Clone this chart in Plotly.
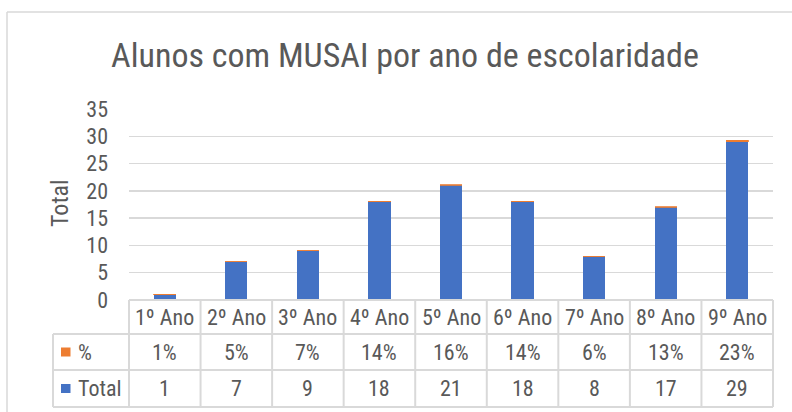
import plotly.graph_objects as go

categories = ["1º Ano", "2º Ano", "3º Ano", "4º Ano", "5º Ano", "6º Ano", "7º Ano", "8º Ano", "9º Ano"]
total = [1, 7, 9, 18, 21, 18, 8, 17, 29]
pct = [0.01, 0.05, 0.07, 0.14, 0.16, 0.14, 0.06, 0.13, 0.23]
pct_labels = ["1%", "5%", "7%", "14%", "16%", "14%", "6%", "13%", "23%"]
y_ticks = [0, 5, 10, 15, 20, 25, 30, 35]

W, H = 792, 412
FONT = "Liberation Sans Narrow, Arial Narrow, Roboto Condensed, sans-serif"
GRAY = "#595959"
LINE = "#d9d9d9"
BLUE = "#4472C4"
ORANGE = "#ED7D31"

px_l, px_r = 129, 773
py_top, py_bot = 109, 300
row_y = [300, 334, 370, 407]
leg_l = 53


def py(y):
    return 1 - y / H


def pxx(x):
    return x / W


fig = go.Figure()
fig.add_bar(x=categories, y=total, name="Total", marker=dict(color=BLUE, line=dict(width=0)), width=0.31)
fig.add_bar(x=categories, y=pct, name="%", marker=dict(color=ORANGE, line=dict(width=0.8, color=ORANGE)), width=0.31)

shapes = []
annotations = []

# outer frame
shapes.append(dict(type="line", xref="paper", yref="paper", x0=pxx(7), x1=1.0, y0=py(12), y1=py(12),
                   line=dict(color=LINE, width=1.5)))
shapes.append(dict(type="line", xref="paper", yref="paper", x0=pxx(7), x1=pxx(7), y0=py(12), y1=0,
                   line=dict(color=LINE, width=1.5)))

# table horizontal lines
shapes.append(dict(type="line", xref="paper", yref="paper", x0=pxx(px_l), x1=pxx(px_r), y0=py(row_y[0]), y1=py(row_y[0]),
                   line=dict(color=LINE, width=2)))
for yy in row_y[1:]:
    shapes.append(dict(type="line", xref="paper", yref="paper", x0=pxx(leg_l), x1=pxx(px_r), y0=py(yy), y1=py(yy),
                       line=dict(color=LINE, width=2)))
# vertical lines
colw = (px_r - px_l) / len(categories)
for i in range(len(categories) + 1):
    xx = px_l + i * colw
    shapes.append(dict(type="line", xref="paper", yref="paper", x0=pxx(xx), x1=pxx(xx), y0=py(row_y[0]), y1=py(row_y[3]),
                       line=dict(color=LINE, width=2)))
shapes.append(dict(type="line", xref="paper", yref="paper", x0=pxx(leg_l), x1=pxx(leg_l), y0=py(row_y[1]), y1=py(row_y[3]),
                   line=dict(color=LINE, width=2)))

# legend keys
for (c, ymid, lab) in [(ORANGE, (row_y[1] + row_y[2]) / 2, "%"), (BLUE, (row_y[2] + row_y[3]) / 2, "Total")]:
    shapes.append(dict(type="rect", xref="paper", yref="paper", x0=pxx(61), x1=pxx(70.5), y0=py(ymid - 4.5), y1=py(ymid + 4.5),
                       fillcolor=c, line=dict(width=0)))
    annotations.append(dict(text=lab, xref="paper", yref="paper", x=pxx(76), y=py(ymid), xanchor="left", yanchor="middle",
                            showarrow=False, font=dict(family=FONT, size=22, color=GRAY)))

# table text
for i, cat in enumerate(categories):
    for txt, ymid in [(cat, (row_y[0] + row_y[1]) / 2), (pct_labels[i], (row_y[1] + row_y[2]) / 2),
                      (str(total[i]), (row_y[2] + row_y[3]) / 2)]:
        annotations.append(dict(text=txt, xref="x", yref="paper", x=cat, y=py(ymid), xanchor="center", yanchor="middle",
                                showarrow=False, font=dict(family=FONT, size=22, color=GRAY)))

# y axis title
annotations.append(dict(text="Total", xref="paper", yref="paper", x=pxx(60), y=py(204), textangle=-90,
                        xanchor="center", yanchor="middle", showarrow=False, font=dict(family=FONT, size=24, color=GRAY)))

fig.update_layout(
    width=W, height=H,
    margin=dict(l=0, r=0, t=0, b=0, pad=0, autoexpand=False),
    paper_bgcolor="white", plot_bgcolor="white",
    barmode="stack", showlegend=False,
    title=dict(text="Alunos com MUSAI por ano de escolaridade", x=pxx(405), xanchor="center",
               y=py(55), yanchor="middle", font=dict(family=FONT, size=34, color=GRAY)),
    xaxis=dict(domain=[pxx(px_l), pxx(px_r)], showticklabels=False, showgrid=False, zeroline=False,
               showline=False, ticks="", automargin=False, fixedrange=True),
    yaxis=dict(domain=[py(py_bot), py(py_top)], range=[0, 35], tickvals=y_ticks, showgrid=True, gridcolor=LINE,
               gridwidth=1.5, zeroline=False, showline=False, ticks="", ticklabelstandoff=20, automargin=False,
               fixedrange=True, tickfont=dict(family=FONT, size=22, color=GRAY)),
    shapes=shapes, annotations=annotations,
)

fig.write_html(
    "out.html",
    config={"displayModeBar": False, "staticPlot": True},
    post_script=(
        "document.documentElement.style.margin='0';document.documentElement.style.overflow='hidden';"
        "document.body.style.margin='0';document.body.style.padding='0';document.body.style.overflow='hidden';"
    ),
)
